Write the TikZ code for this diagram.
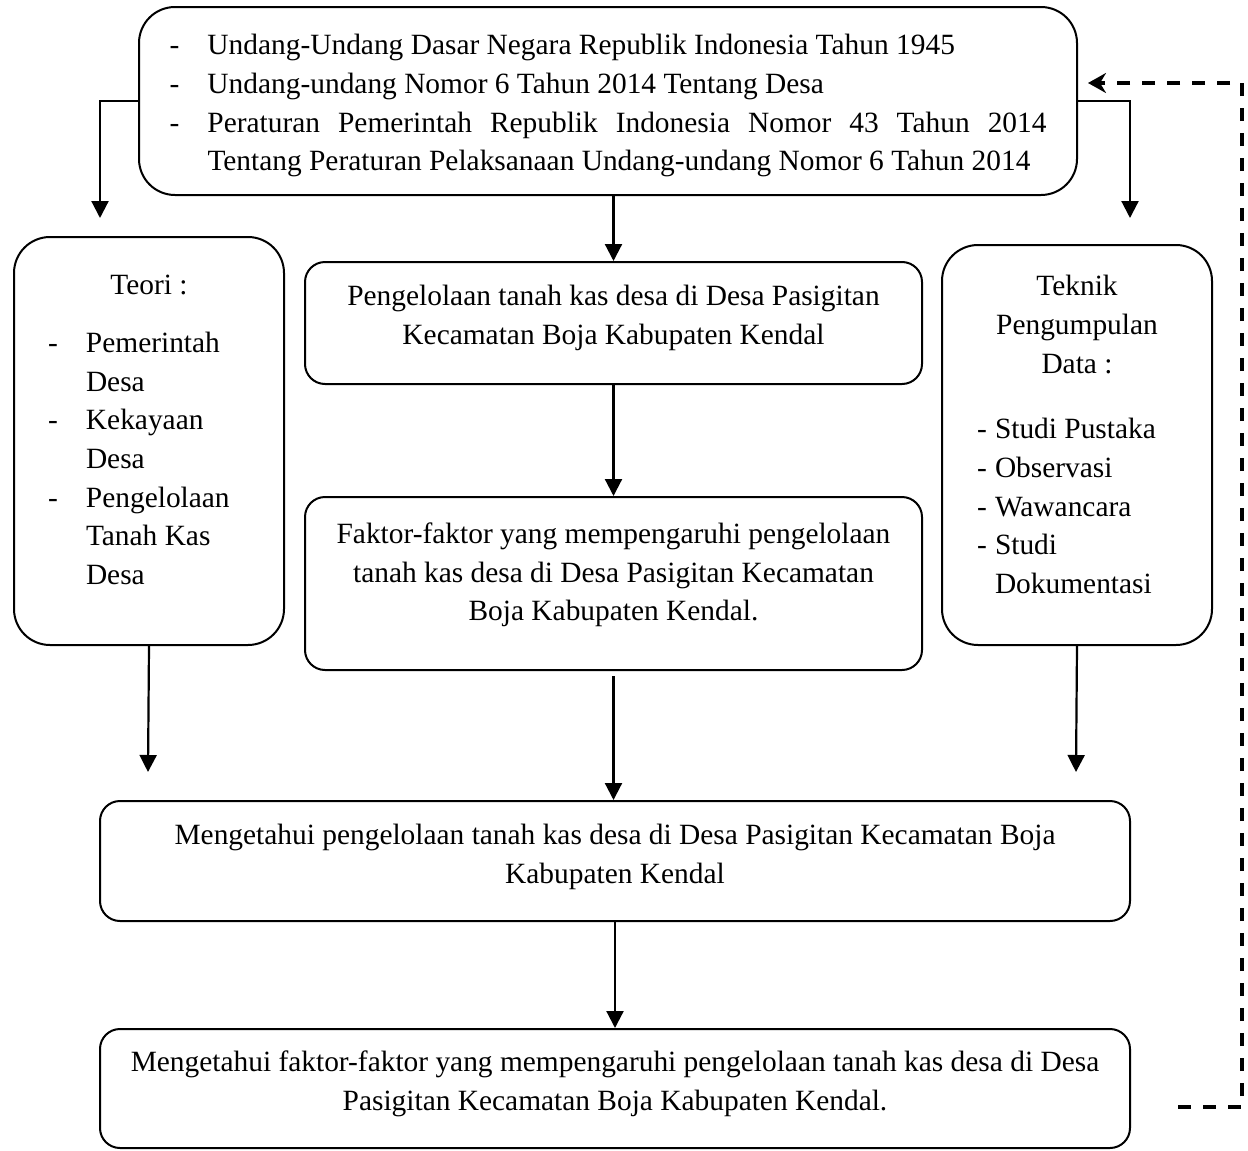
\documentclass[tikz,border=0pt]{standalone}
\usepackage{fontspec}
\setmainfont{Liberation Serif}
\usetikzlibrary{arrows.meta}

\begin{document}
\begin{tikzpicture}[x = 1pt, y = -1pt,
    box/.style = {draw, line width = 2pt, rounded corners = 20pt, inner sep = 0pt,
      align = center, font = \fontsize{29.4}{38.7}\selectfont},
    bigbox/.style = {box, rounded corners = 36pt},
    arr/.style = {line width = 2.2pt, -{Triangle[length = 17pt, width = 17pt]}},
    back/.style = {line width = 4.5pt, dash pattern = on 13pt off 12pt,
      -{Stealth[length = 18pt, width = 20pt, inset = 6pt]}}]
  \useasboundingbox (0, 0) rectangle (1248, 1151);

  \node[bigbox, minimum width = 938pt, minimum height = 188pt] (dasar) at (608, 101) {%
    \begin{tabular}{@{}p{38pt}@{}l@{}}
      \rule{0pt}{35pt}- & Undang-Undang Dasar Negara Republik Indonesia Tahun 1945\\
      - & Undang-undang Nomor 6 Tahun 2014 Tentang Desa\\
      - & \makebox[839pt][s]{Peraturan Pemerintah Republik Indonesia Nomor 43 Tahun 2014}\\
        & Tentang Peraturan Pelaksanaan Undang-undang Nomor 6 Tahun 2014
    \end{tabular}};

  \node[bigbox, minimum width = 270pt, minimum height = 408pt] (teori) at (149, 441) {%
    \begin{tabular}{@{}p{38pt}@{}p{164pt}@{}}
      \multicolumn{2}{c}{Teori :}\\[19pt]
      - & Pemerintah\\
        & Desa\\
      - & Kekayaan\\
        & Desa\\
      - & Pengelolaan\\
        & Tanah Kas\\
        & Desa\\[18pt]
    \end{tabular}};

  \node[bigbox, minimum width = 270pt, minimum height = 400pt] (teknik) at (1077, 445) {%
    \begin{tabular}{@{}p{18pt}@{}p{182pt}@{}}
      \multicolumn{2}{c}{Teknik}\\
      \multicolumn{2}{c}{Pengumpulan}\\
      \multicolumn{2}{c}{Data :}\\[27pt]
      - & Studi Pustaka\\
      - & Observasi\\
      - & Wawancara\\
      - & Studi\\
        & Dokumentasi\\[16pt]
    \end{tabular}};

  \node[box, minimum width = 617pt, minimum height = 122pt] (kelola) at (613.5, 323) {%
    \begin{tabular}{@{}c@{}}
      Pengelolaan tanah kas desa di Desa Pasigitan\\
      Kecamatan Boja Kabupaten Kendal\\[12pt]
    \end{tabular}};

  \node[box, minimum width = 617pt, minimum height = 173pt] (faktor) at (613.5, 583.5) {%
    \begin{tabular}{@{}c@{}}
      Faktor-faktor yang mempengaruhi pengelolaan\\
      tanah kas desa di Desa Pasigitan Kecamatan\\
      Boja Kabupaten Kendal.\\[18pt]
    \end{tabular}};

  \node[box, minimum width = 1030pt, minimum height = 120pt] (hasil1) at (615, 861) {%
    \begin{tabular}{@{}c@{}}
      Mengetahui pengelolaan tanah kas desa di Desa Pasigitan Kecamatan Boja\\
      Kabupaten Kendal\\[10pt]
    \end{tabular}};

  \node[box, minimum width = 1030pt, minimum height = 119pt] (hasil2) at (615, 1088.5) {%
    \begin{tabular}{@{}c@{}}
      Mengetahui faktor-faktor yang mempengaruhi pengelolaan tanah kas desa di Desa\\
      Pasigitan Kecamatan Boja Kabupaten Kendal.\\[10pt]
    \end{tabular}};

  % free ends of the arrows
  \coordinate (teoriIn) at (100, 218);
  \coordinate (teknikIn) at (1130, 218);
  \coordinate (teoriOut) at (148, 772);
  \coordinate (teknikOut) at (1076, 772);
  \coordinate (backStart) at (1178, 1107);
  \coordinate (backTurn) at (1242, 83);
  \coordinate (backEnd) at (1088, 83);

  \draw[arr] (dasar.west) -| (teoriIn);
  \draw[arr] (dasar.east) -| (teknikIn);
  \draw[arr] (dasar.south -| kelola.north) -- (kelola.north);
  \draw[arr] (kelola) -- (faktor);
  \draw[arr] ([yshift = -5pt]faktor.south) -- (faktor.south |- hasil1.north);
  \draw[arr] (teori.south) -- (teoriOut);
  \draw[arr] (teknik.south) -- (teknikOut);
  \draw[arr] (hasil1) -- (hasil2);

  % feedback line
  \draw[back] (backStart) -| (backTurn) -- (backEnd);
\end{tikzpicture}
\end{document}
